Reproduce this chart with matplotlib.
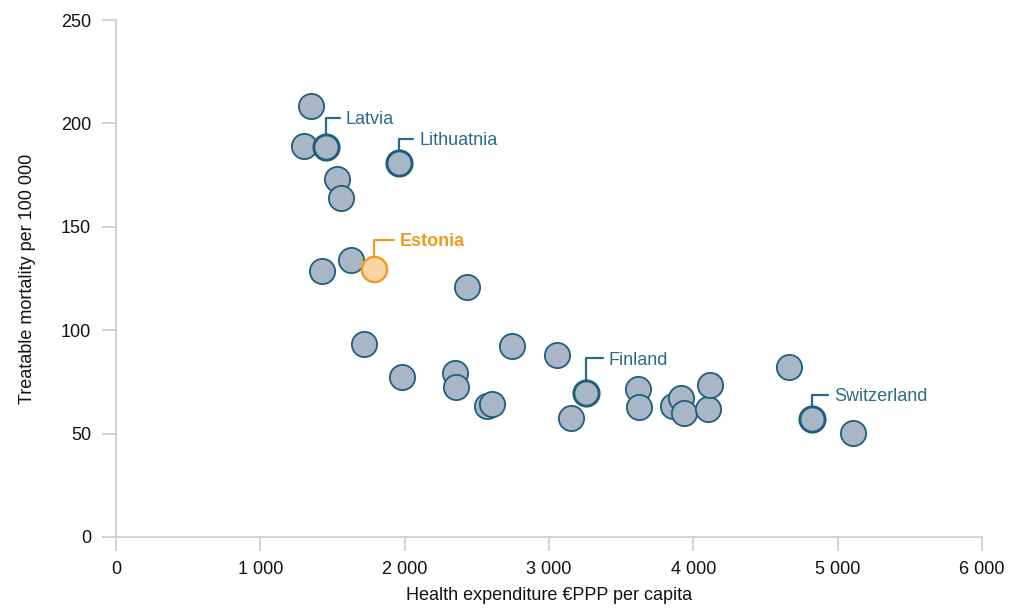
import matplotlib.pyplot as plt

plt.rcParams['font.family'] = ['Liberation Sans', 'DejaVu Sans']

# health expenditure (EUR PPP per capita) and treatable mortality per 100 000
spend = [1351, 1303, 1427, 1531, 1559, 1628, 1718, 1982, 2349, 2356, 2432,
         2570, 2605, 2744, 3055, 3152, 3617, 3624, 3860, 3914, 3936, 4100,
         4116, 4663, 5106]
mortality = [208.4, 189.1, 128.6, 173.1, 163.9, 133.9, 93.3, 77.4, 79.3, 72.5, 120.9,
             63.3, 64.3, 92.4, 88.0, 57.5, 71.6, 62.9, 63.3, 67.2, 60.0, 61.9,
             73.5, 82.2, 50.3]

# labelled countries
hl_names = ['Latvia', 'Lithuatnia', 'Finland', 'Switzerland']
hl_spend = [1455, 1961, 3256, 4822]
hl_mort = [188.6, 180.9, 69.6, 57.1]
# leader offsets in pixels: rise above the point, horizontal run
hl_rise = [29, 24, 35, 24]
hl_run = [14, 14, 17, 16]

est_spend, est_mort = 1788, 129.6

blue_face = '#a9b6c5'
blue_edge = '#1f5e7c'
label_col = '#2b6a89'
orange_face = '#fdd4a3'
orange_edge = '#f29a1f'
grid_col = '#cfcfcf'

px = 0.72  # points per pixel at dpi 100
msize = 330
radius_pt = 11 * px

fig = plt.figure(figsize=(10.17, 6.10), dpi=100)
ax = fig.add_axes([0.114, 0.1197, 0.8516, 0.8475])

ax.scatter(spend, mortality, s=msize, c=blue_face, edgecolors=blue_edge,
           linewidths=1.3, zorder=3)
ax.scatter(hl_spend, hl_mort, s=msize, c=blue_face, edgecolors=blue_edge,
           linewidths=2.1, zorder=4)
ax.scatter([est_spend], [est_mort], s=msize, c=orange_face, edgecolors=orange_edge,
           linewidths=1.7, zorder=4)


def leader(x, y, name, rise, run, color, weight='normal'):
    ax.annotate('', xy=(x, y), xytext=(run * px, rise * px), textcoords='offset points',
                arrowprops=dict(arrowstyle='-', color=color, lw=1.6,
                                connectionstyle='angle,angleA=0,angleB=90,rad=0',
                                shrinkA=0, shrinkB=radius_pt), zorder=2)
    ax.annotate(name, xy=(x, y), xytext=((run + 6) * px, (rise - 2) * px),
                textcoords='offset points', ha='left', va='center',
                fontsize=13, color=color, fontweight=weight)


for n, xv, yv, r, w in zip(hl_names, hl_spend, hl_mort, hl_rise, hl_run):
    leader(xv, yv, n, r, w, label_col)
leader(est_spend, est_mort, 'Estonia', 29, 20, orange_edge, 'bold')

ax.set_xlim(0, 6000)
ax.set_ylim(0, 250)
ax.set_xticks(range(0, 6001, 1000))
ax.set_xticklabels(['0', '1 000', '2 000', '3 000', '4 000', '5 000', '6 000'])
ax.set_yticks(range(0, 251, 50))

for s in ['top', 'right']:
    ax.spines[s].set_visible(False)
for s in ['left', 'bottom']:
    ax.spines[s].set_color(grid_col)
    ax.spines[s].set_linewidth(1.3)
ax.tick_params(axis='both', colors=grid_col, length=10, width=1.3, labelcolor='#111111',
               labelsize=13)
ax.tick_params(axis='x', pad=7)
ax.tick_params(axis='y', pad=8)

ax.set_xlabel('Health expenditure €PPP per capita', fontsize=13, color='#111111', labelpad=7)
ax.set_ylabel('Treatable mortality per 100 000', fontsize=13, color='#111111', labelpad=18)

fig.savefig('out.png', dpi=100)
